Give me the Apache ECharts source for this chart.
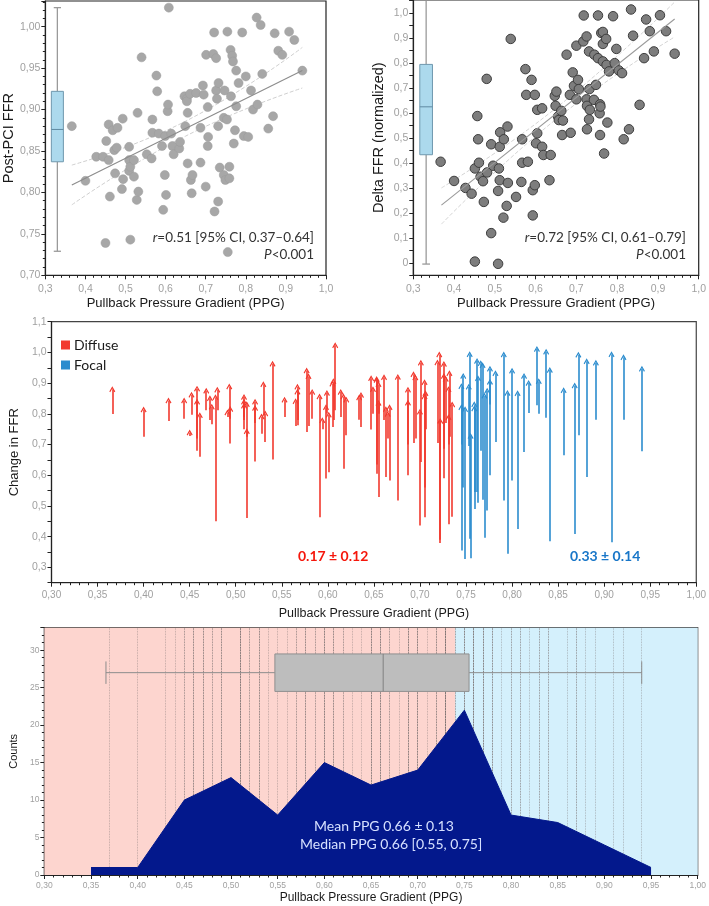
<!DOCTYPE html>
<html><head><meta charset="utf-8">
<script src="https://cdn.jsdelivr.net/npm/echarts@6/dist/echarts.min.js"></script>
<style>html,body{margin:0;padding:0;background:#fff}#c{width:709px;height:906px}</style>
</head><body><div id="c"></div>
<script>
// ---- data: per-lesion PPG, post-PCI FFR, pre-PCI FFR (panels A, C, D)
const ppg = [0.366,0.400,0.427,0.444,0.450,0.452,0.458,0.458,0.461,0.468,
0.472,0.474,0.478,0.480,0.491,0.493,0.494,0.509,0.509,0.509,
0.512,0.512,0.521,0.521,0.528,0.530,0.532,0.540,0.553,0.565,
0.567,0.567,0.577,0.579,0.583,0.591,0.594,0.598,0.599,0.601,
0.605,0.606,0.608,0.614,0.617,0.620,0.634,0.636,0.647,0.649,
0.653,0.653,0.655,0.655,0.661,0.663,0.665,0.667,0.676,0.687,
0.687,0.693,0.695,0.700,0.701,0.705,0.705,0.706,0.719,0.721,
0.722,0.726,0.726,0.728,0.731,0.731,0.732,0.735,0.745,0.745,
0.747,0.749,0.753,0.754,0.755,0.759,0.759,0.762,0.763,0.766,
0.768,0.770,0.773,0.776,0.776,0.782,0.791,0.795,0.800,0.806,
0.813,0.818,0.827,0.829,0.837,0.841,0.856,0.868,0.872,0.881,
0.891,0.908,0.921,0.941];
const postFFR = [0.880,0.814,0.843,0.843,0.739,0.862,0.882,0.839,0.795,0.875,
0.851,0.823,0.854,0.878,0.804,0.889,0.816,0.855,0.839,0.826,
0.831,0.743,0.839,0.819,0.791,0.896,0.801,0.963,0.846,0.841,
0.888,0.872,0.941,0.922,0.871,0.856,0.779,0.821,0.868,0.797,
0.898,0.906,1.023,0.871,0.856,0.846,0.853,0.861,0.916,0.880,
0.913,0.910,0.896,0.835,0.919,0.815,0.799,0.821,0.920,0.878,
0.836,0.929,0.918,0.807,0.966,0.903,0.856,0.867,0.967,0.993,
0.777,0.962,0.923,0.913,0.880,0.789,0.932,0.830,0.821,0.890,
0.923,0.815,0.888,0.994,0.728,0.831,0.817,0.972,0.916,0.965,
0.958,0.859,0.875,0.904,0.947,0.932,0.993,0.868,0.940,0.867,
0.923,0.900,1.011,0.906,1.002,0.943,0.877,0.892,0.992,0.971,
0.966,0.994,0.984,0.947];
const preFFR = [0.799,0.725,0.777,0.784,0.728,0.797,0.720,0.680,0.660,0.812,
0.780,0.766,0.450,0.812,0.790,0.784,0.703,0.790,0.780,0.750,
0.725,0.461,0.645,0.770,0.735,0.795,0.708,0.651,0.790,0.760,
0.763,0.780,0.741,0.760,0.784,0.463,0.750,0.589,0.801,0.610,
0.757,0.780,0.812,0.790,0.621,0.730,0.781,0.757,0.749,0.800,
0.635,0.605,0.800,0.529,0.780,0.594,0.720,0.583,0.518,0.700,
0.600,0.705,0.720,0.436,0.643,0.463,0.560,0.750,0.705,0.379,
0.390,0.686,0.590,0.770,0.700,0.440,0.725,0.465,0.355,0.700,
0.560,0.327,0.695,0.393,0.330,0.545,0.490,0.545,0.510,0.680,
0.520,0.396,0.485,0.600,0.830,0.708,0.518,0.344,0.583,0.425,
0.676,0.803,0.828,0.800,0.787,0.385,0.665,0.409,0.730,0.594,
0.781,0.382,0.781,0.678];

// ---- panel B: PPG vs normalized delta FFR
const deltaPPG = [0.367,0.400,0.428,0.443,0.451,0.451,0.457,0.459,0.461,0.465,
0.471,0.473,0.480,0.481,0.491,0.491,0.496,0.508,0.508,0.510,
0.512,0.512,0.513,0.521,0.522,0.529,0.531,0.532,0.539,0.552,
0.565,0.567,0.567,0.575,0.577,0.581,0.590,0.593,0.593,0.598,
0.598,0.601,0.604,0.604,0.616,0.616,0.619,0.634,0.637,0.647,
0.649,0.651,0.655,0.657,0.663,0.665,0.667,0.676,0.684,0.686,
0.691,0.694,0.700,0.700,0.704,0.706,0.717,0.718,0.725,0.725,
0.726,0.726,0.731,0.731,0.732,0.733,0.743,0.744,0.748,0.753,
0.753,0.757,0.758,0.758,0.759,0.761,0.765,0.765,0.765,0.768,
0.773,0.774,0.776,0.780,0.790,0.794,0.798,0.804,0.812,0.816,
0.829,0.834,0.839,0.855,0.866,0.871,0.880,0.890,0.905,0.920,0.941];
const deltaFFR = [0.405,0.328,0.300,0.277,0.378,0.005,0.588,0.495,0.401,0.345,
0.327,0.244,0.737,0.362,0.475,0.119,0.389,-0.004,0.288,0.378,
0.465,0.331,0.523,0.181,0.495,0.228,0.546,0.320,0.897,0.264,
0.324,0.401,0.495,0.776,0.673,0.405,0.733,0.190,0.291,0.311,
0.673,0.479,0.519,0.613,0.619,0.465,0.432,0.331,0.432,0.669,
0.629,0.686,0.586,0.572,0.609,0.512,0.570,0.834,0.673,0.521,
0.763,0.709,0.870,0.655,0.733,0.696,0.887,0.991,0.907,0.655,
0.629,0.535,0.575,0.847,0.696,0.613,0.653,0.834,0.713,0.820,
0.991,0.599,0.635,0.512,0.626,0.921,0.925,0.877,0.807,0.438,
0.897,0.793,0.562,0.767,0.988,0.800,0.857,0.771,0.760,0.495,
0.535,1.015,0.910,0.633,0.820,0.975,0.928,0.847,0.992,0.928,0.838];

// ---- fits and box plots
const regA = [[0.366,0.809],[0.941,0.947]];
const ciAupper = [[0.366,0.833],[0.65,0.886],[0.941,0.975]];
const ciAlower = [[0.366,0.785],[0.65,0.868],[0.941,0.926]];
const regB = [[0.369,0.231],[0.941,0.977]];
const ciBupper = [[0.369,0.300],[0.65,0.620],[0.941,1.045]];
const ciBlower = [[0.369,0.155],[0.65,0.575],[0.941,0.905]];
const boxA = [0.729,0.837,0.876,0.922,1.023];
const boxB = [-0.005,0.433,0.625,0.795,1.05];
const boxPPG = [0.366,0.547,0.663,0.755,0.940];

// ---- histogram of PPG
const histBins = [0.35,0.40,0.45,0.50,0.55,0.60,0.65,0.70,0.75,0.80,0.85,0.90,0.95];
const histCounts = [1,1,10,13,8,15,12,14,22,8,7,4,1];
const cutoff = 0.74;

const RED = '#f2392e', BLUE = '#2b8cce', NAVY = '#03188c';
const LBL = '#a0a0a0', AX = '#222';
const SANS = 'Liberation Sans', CAL = 'Lato';

function lab(step, dec, zeroPlain){
  return v => {
    const k = v/step;
    if (Math.abs(k-Math.round(k))>1e-6) return '';
    if (zeroPlain && Math.abs(v)<1e-9) return '0';
    return v.toFixed(dec).replace('.',',');
  };
}
function xAxisCfg(grid, min, max, interval, fmt, name, fs, nameGap, nfs, lm){
  return {type:'value', gridIndex:grid, min, max, interval,
    axisLine:{show:true, onZero:false, lineStyle:{color:AX,width:1.2}},
    axisTick:{show:true, length:4, lineStyle:{color:AX}},
    minorTick:{show:true, splitNumber:5, length:2.5, lineStyle:{color:AX}},
    splitLine:{show:false},
    axisLabel:{formatter:fmt, color:LBL, fontSize:fs, fontFamily:SANS, margin:lm, showMaxLabel:true},
    name, nameLocation:'middle', nameGap, nameTextStyle:{color:'#1a1a1a', fontSize:nfs, fontFamily:SANS}};
}
function yAxisCfg(grid, min, max, interval, fmt, name, fs, nameGap, nfs, minorSplit){
  return {type:'value', gridIndex:grid, min, max, interval,
    axisLine:{show:true, onZero:false, lineStyle:{color:AX,width:1.2}},
    axisTick:{show:true, length:4, lineStyle:{color:AX}},
    minorTick:{show:minorSplit>0, splitNumber:minorSplit||1, length:2.5, lineStyle:{color:AX}},
    splitLine:{show:false},
    axisLabel:{formatter:fmt, color:LBL, fontSize:fs, fontFamily:SANS, margin:5},
    name, nameLocation:'middle', nameGap, nameTextStyle:{color:'#1a1a1a', fontSize:nfs, fontFamily:SANS}};
}

function vBox(vals, x0, x1, c0, c1, capHi){
  return (params, api) => {
    const P = (x,y)=>api.coord([x,y]);
    const [lo,q1,md,q3,hi] = vals, xm=(x0+x1)/2;
    const a=P(x0,q3), b=P(x1,q1), wl=P(xm,lo), wh=P(xm,hi), q1m=P(xm,q1), q3m=P(xm,q3);
    const l0=P(c0,lo), l1=P(c1,lo), h0=P(c0,hi), h1=P(c1,hi), m0=P(x0,md), m1=P(x1,md);
    const ws={stroke:'#9a9a9a', lineWidth:1.3};
    const ch=[
      {type:'line', shape:{x1:wl[0],y1:wl[1],x2:q1m[0],y2:q1m[1]}, style:ws},
      {type:'line', shape:{x1:q3m[0],y1:q3m[1],x2:wh[0],y2:wh[1]}, style:ws},
      {type:'line', shape:{x1:l0[0],y1:l0[1],x2:l1[0],y2:l1[1]}, style:ws},
      {type:'rect', shape:{x:a[0],y:a[1],width:b[0]-a[0],height:b[1]-a[1]}, style:{fill:'#acd9ed',stroke:'#6f98ae',lineWidth:1}},
      {type:'line', shape:{x1:m0[0],y1:m0[1],x2:m1[0],y2:m1[1]}, style:{stroke:'#5f8aa2',lineWidth:1}}
    ];
    if (capHi) ch.push({type:'line', shape:{x1:h0[0],y1:h0[1],x2:h1[0],y2:h1[1]}, style:ws});
    return {type:'group', children:ch};
  };
}
function hBox(vals, yc, y0, y1, c0, c1){
  return (params, api) => {
    const P = (x,y)=>api.coord([x,y]);
    const [lo,q1,md,q3,hi] = vals;
    const a=P(q1,y1), b=P(q3,y0), wl=P(lo,yc), wh=P(hi,yc), q1m=P(q1,yc), q3m=P(q3,yc);
    const l0=P(lo,c0), l1=P(lo,c1), h0=P(hi,c0), h1=P(hi,c1), m0=P(md,y0), m1=P(md,y1);
    const ws={stroke:'#8c8c8c', lineWidth:1};
    return {type:'group', children:[
      {type:'line', shape:{x1:wl[0],y1:wl[1],x2:q1m[0],y2:q1m[1]}, style:ws},
      {type:'line', shape:{x1:q3m[0],y1:q3m[1],x2:wh[0],y2:wh[1]}, style:ws},
      {type:'line', shape:{x1:l0[0],y1:l0[1],x2:l1[0],y2:l1[1]}, style:ws},
      {type:'line', shape:{x1:h0[0],y1:h0[1],x2:h1[0],y2:h1[1]}, style:ws},
      {type:'rect', shape:{x:a[0],y:a[1],width:b[0]-a[0],height:b[1]-a[1]}, style:{fill:'#bdbdbd',stroke:'#8e8e8e',lineWidth:1}},
      {type:'line', shape:{x1:m0[0],y1:m0[1],x2:m1[0],y2:m1[1]}, style:{stroke:'#808080',lineWidth:1}}
    ]};
  };
}

const arrowD = [], arrowF = [];
ppg.forEach((x,i)=>{
  const it = {coords:[[x,preFFR[i]],[x,postFFR[i]]]};
  (x < cutoff ? arrowD : arrowF).push(it);
});
const ARROW = 'path://M5,0 L10,7.5 L8.4,8.6 L5,3.2 L1.6,8.6 L0,7.5 Z';

const chart = echarts.init(document.getElementById('c'), null, {renderer:'canvas'});
const option = {
  animation:false,
  grid:[
    {left:41.7, top:1, width:284.3, height:274.3, show:true, borderColor:AX, borderWidth:1.2},
    {left:413.3, top:0, width:285.7, height:275.3, show:true, borderColor:AX, borderWidth:1.2},
    {left:41, top:321.7, width:658.3, height:261, show:true, borderColor:'#444', borderWidth:1.2},
    {left:36, top:627.7, width:663.3, height:247.3, show:true, borderColor:'#444', borderWidth:1.2}
  ],
  xAxis:[
    xAxisCfg(0, 0.3, 1.0, 0.1, lab(0.1,1), 'Pullback Pressure Gradient (PPG)', 10.5, 22, 13, 8),
    xAxisCfg(1, 0.3, 1.0, 0.1, lab(0.1,1), 'Pullback Pressure Gradient (PPG)', 10.5, 22, 13, 8),
    xAxisCfg(2, 0.3, 1.0, 0.05, lab(0.05,2), 'Pullback Pressure Gradient (PPG)', 10, 24, 12.5, 8),
    xAxisCfg(3, 0.3, 1.0, 0.05, lab(0.05,2), 'Pullback Pressure Gradient (PPG)', 8.5, 17, 12, 6)
  ],
  yAxis:[
    yAxisCfg(0, 0.70, 1.031, 0.05, lab(0.05,2), 'Post-PCI FFR', 10.5, 29, 14.5, 5),
    yAxisCfg(1, -0.05, 1.053, 0.05, lab(0.1,1,true), 'Delta FFR (normalized)', 10.5, 27, 14.5, 0),
    yAxisCfg(2, 0.25, 1.1, 0.05, lab(0.1,1), 'Change in FFR', 10.5, 25, 13, 0),
    yAxisCfg(3, 0, 33, 5, lab(5,0), 'Counts', 8.5, 21, 11, 5)
  ],
  legend:{data:['Diffuse','Focal'], orient:'vertical', left:56, top:333, icon:'rect', itemWidth:7, itemHeight:7, itemGap:6,
    textStyle:{fontSize:14, fontFamily:CAL, color:'#1a1a1a'}},
  graphic:[
    {type:'text', right:709-314, top:231, style:{text:'{i|r}=0.51 [95% CI, 0.37–0.64]', fontSize:13.5, fontFamily:CAL, fill:'#333', align:'right',
      rich:{i:{fontStyle:'italic', fontSize:13.5, fontFamily:CAL, fill:'#333'}}}},
    {type:'text', right:709-314, top:248, style:{text:'{i|P}<0.001', fontSize:13.5, fontFamily:CAL, fill:'#333', rich:{i:{fontStyle:'italic', fontSize:13.5, fontFamily:CAL, fill:'#333'}}}},
    {type:'text', right:709-686, top:231, style:{text:'{i|r}=0.72 [95% CI, 0.61–0.79]', fontSize:13.5, fontFamily:CAL, fill:'#333', rich:{i:{fontStyle:'italic', fontSize:13.5, fontFamily:CAL, fill:'#333'}}}},
    {type:'text', right:709-686, top:248, style:{text:'{i|P}<0.001', fontSize:13.5, fontFamily:CAL, fill:'#333', rich:{i:{fontStyle:'italic', fontSize:13.5, fontFamily:CAL, fill:'#333'}}}},
    {type:'text', left:298, top:549, style:{text:'0.17 ± 0.12', fontSize:14, fontWeight:'bold', fontFamily:CAL, fill:'#f5170c'}},
    {type:'text', left:570, top:549, style:{text:'0.33 ± 0.14', fontSize:14, fontWeight:'bold', fontFamily:CAL, fill:'#1876c8'}},
    {type:'text', left:57, top:646, style:{text:'Diffuse', fontSize:14, fontFamily:CAL, fill:'#1a1a1a'}},
    {type:'text', left:658, top:646, style:{text:'Focal', fontSize:14, fontFamily:CAL, fill:'#1a1a1a'}},
    {type:'text', left:314, top:819, z:20, style:{text:'Mean PPG 0.66 ± 0.13', fontSize:14, fontFamily:CAL, fill:'#d6e0ff'}},
    {type:'text', left:300, top:837, z:20, style:{text:'Median PPG 0.66 [0.55, 0.75]', fontSize:14, fontFamily:CAL, fill:'#d6e0ff'}}
  ],
  series:[
    // panel A
    {type:'line', xAxisIndex:0, yAxisIndex:0, data:ciAupper, smooth:true, symbol:'none', lineStyle:{color:'#cfcfcf', width:1, type:'dashed'}, z:1},
    {type:'line', xAxisIndex:0, yAxisIndex:0, data:ciAlower, smooth:true, symbol:'none', lineStyle:{color:'#cfcfcf', width:1, type:'dashed'}, z:1},
    {type:'scatter', xAxisIndex:0, yAxisIndex:0, data:ppg.map((x,i)=>[x,postFFR[i]]), symbolSize:9,
      itemStyle:{color:'#a7a7a7', borderColor:'#9a9a9a', borderWidth:0.5, opacity:1}, z:2},
    {type:'line', xAxisIndex:0, yAxisIndex:0, data:regA, symbol:'none', lineStyle:{color:'#8c8c8c', width:1.1}, z:3},
    {type:'custom', xAxisIndex:0, yAxisIndex:0, data:[[0.33, boxA[2]]], renderItem:vBox(boxA,0.315,0.345,0.321,0.339,true), z:4},
    // panel B
    {type:'line', xAxisIndex:1, yAxisIndex:1, data:ciBupper, smooth:true, symbol:'none', lineStyle:{color:'#d4d4d4', width:1, type:'dashed'}, z:1},
    {type:'line', xAxisIndex:1, yAxisIndex:1, data:ciBlower, smooth:true, symbol:'none', lineStyle:{color:'#d4d4d4', width:1, type:'dashed'}, z:1},
    {type:'scatter', xAxisIndex:1, yAxisIndex:1, data:deltaPPG.map((x,i)=>[x,deltaFFR[i]]), symbolSize:9.5,
      itemStyle:{color:'#7d7d7d', borderColor:'#3d3d3d', borderWidth:1, opacity:1}, z:2},
    {type:'line', xAxisIndex:1, yAxisIndex:1, data:regB, symbol:'none', lineStyle:{color:'#9a9a9a', width:1.1}, z:3},
    {type:'custom', xAxisIndex:1, yAxisIndex:1, data:[[0.33, boxB[2]]], renderItem:vBox(boxB,0.316,0.347,0.322,0.341,false), z:4},
    // panel C arrows
    {type:'lines', name:'Diffuse', coordinateSystem:'cartesian2d', xAxisIndex:2, yAxisIndex:2, data:arrowD,
      symbol:['none', ARROW], symbolSize:[7,6], itemStyle:{color:RED}, lineStyle:{color:RED, width:1.6, opacity:1}, z:3},
    {type:'lines', name:'Focal', coordinateSystem:'cartesian2d', xAxisIndex:2, yAxisIndex:2, data:arrowF,
      symbol:['none', ARROW], symbolSize:[7,6], itemStyle:{color:BLUE}, lineStyle:{color:BLUE, width:1.6, opacity:1}, z:3},
    // panel D
    {type:'line', xAxisIndex:3, yAxisIndex:3, data:[], symbol:'none', z:1, silent:true,
      markArea:{silent:true, z:1, data:[
        [{xAxis:0.3, itemStyle:{color:'#fdd5cf'}},{xAxis:cutoff}],
        [{xAxis:cutoff, itemStyle:{color:'#d4f0fc'}},{xAxis:1.0}]
      ]},
      markLine:{silent:true, z:2, symbol:['none','none'], label:{show:false},
        lineStyle:{type:'dotted', color:'rgba(120,110,110,0.55)', width:0.8},
        data: ppg.map(v=>({xAxis:v}))}},
    {type:'line', xAxisIndex:3, yAxisIndex:3, data:histBins.map((b,i)=>[b,histCounts[i]]), symbol:'none',
      lineStyle:{color:NAVY, width:1}, areaStyle:{color:NAVY, opacity:1}, z:10},
    {type:'custom', xAxisIndex:3, yAxisIndex:3, data:[[boxPPG[2],27]], renderItem:hBox(boxPPG,27,24.5,29.5,25.5,28.5), z:11}
  ]
};
chart.setOption(option);
</script></body></html>
